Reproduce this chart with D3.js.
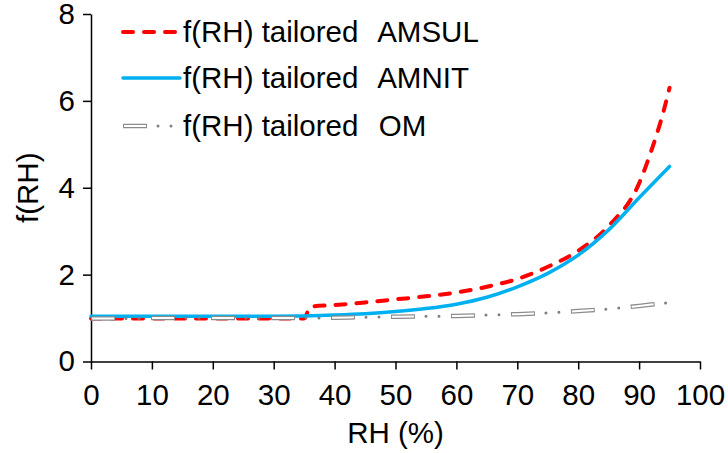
<!DOCTYPE html>
<html>
<head>
<meta charset="utf-8">
<script src="https://cdn.jsdelivr.net/npm/d3@7"></script>
<style>
  html, body { margin: 0; padding: 0; background: #fff; }
  svg { display: block; }
  text { font-family: "Liberation Sans", Arial, sans-serif; fill: #000; }
</style>
</head>
<body>
<svg id="chart" width="728" height="453"></svg>
<script>
// Relative humidity grid (%) and growth factors f(RH)
const rh = [0, 5, 10, 15, 20, 25, 30, 35, 40, 45, 50, 55, 60, 65, 70, 75, 80, 85, 90, 95];
const rhAmsul = [0, 5, 10, 15, 20, 25, 30, 35, 36, 40, 45, 50, 55, 60, 65, 70, 75, 80, 85, 90, 92, 94, 95];
const fAmsul = [0.99, 0.99, 0.99, 0.99, 0.99, 0.99, 0.99, 0.99, 1.26, 1.30, 1.36, 1.43, 1.50, 1.59, 1.72, 1.90, 2.18, 2.55, 3.12, 4.10, 4.85, 5.75, 6.30];
const fAmnit = [1.04, 1.04, 1.04, 1.04, 1.04, 1.04, 1.04, 1.05, 1.07, 1.10, 1.15, 1.22, 1.32, 1.48, 1.72, 2.03, 2.45, 3.03, 3.77, 4.49];
const fOm = [0.99, 0.99, 1.00, 1.00, 1.00, 1.00, 1.00, 1.00, 1.01, 1.02, 1.03, 1.04, 1.05, 1.07, 1.09, 1.12, 1.16, 1.21, 1.28, 1.36];

const xTicks = [0, 10, 20, 30, 40, 50, 60, 70, 80, 90, 100];
const yTicks = [0, 2, 4, 6, 8];
const legendPrefix = "f(RH) tailored  ";
const species = ["AMSUL", "AMNIT", "OM"];

const FONT = 29.5;
const svg = d3.select("#chart");
const plotLeft = 91, plotRight = 700, plotTop = 14, plotBottom = 361.5;

const x = d3.scaleLinear().domain([0, 100]).range([plotLeft, plotRight]);
const y = d3.scaleLinear().domain([0, 8]).range([plotBottom, plotTop]);

// Axes
const xAxis = d3.axisBottom(x).tickValues(xTicks).tickSize(8).tickSizeOuter(0).tickPadding(15);
const yAxis = d3.axisLeft(y).tickValues(yTicks).tickSize(8).tickSizeOuter(0).tickPadding(8);

const gx = svg.append("g").attr("transform", `translate(0,${plotBottom})`).call(xAxis);
const gy = svg.append("g").attr("transform", `translate(${plotLeft},0)`).call(yAxis);
[gx, gy].forEach(g => {
  g.select(".domain").attr("stroke", "#000").attr("stroke-width", 1.5);
  g.selectAll(".tick line").attr("stroke", "#000").attr("stroke-width", 1.5);
  g.selectAll(".tick text").attr("font-size", FONT).attr("font-family", "Liberation Sans, Arial, sans-serif").attr("fill", "#000");
});
gx.selectAll(".tick text").attr("dy", "0.71em");

// Axis titles
svg.append("text").attr("x", (plotLeft + plotRight) / 2).attr("y", 443)
  .attr("text-anchor", "middle").attr("font-size", FONT).text("RH (%)");
svg.append("text").attr("transform", `translate(38,${(plotTop + plotBottom) / 2}) rotate(-90)`)
  .attr("text-anchor", "middle").attr("font-size", FONT).text("f(RH)");

const line = d3.line().curve(d3.curveMonotoneX);
const smooth = d3.line().curve(d3.curveCatmullRom.alpha(0.5));

const amsulPts = rhAmsul.map((r, i) => [x(r), y(fAmsul[i])]);
const amnitPts = rh.map((r, i) => [x(r), y(fAmnit[i])]);
const omPts = rh.map((r, i) => [x(r), y(fOm[i])]);

// Style helpers for each series
function drawAmsul(g, d) {
  g.append("path").attr("d", d).attr("fill", "none").attr("stroke", "#FF0000")
    .attr("stroke-width", 4).attr("stroke-linecap", "round").attr("stroke-dasharray", "10,11");
}
function drawAmnit(g, d) {
  g.append("path").attr("d", d).attr("fill", "none").attr("stroke", "#00B0F0")
    .attr("stroke-width", 3.5).attr("stroke-linecap", "round");
}
function drawOm(g, d) {
  // dots of the dash-dot-dot pattern
  g.append("path").attr("d", d).attr("fill", "none").attr("stroke", "#808080")
    .attr("stroke-width", 3).attr("stroke-linecap", "round")
    .attr("stroke-dasharray", "0,13,0,47").attr("stroke-dashoffset", 25);
  // hollow long dashes: grey outline with white core
  g.append("path").attr("d", d).attr("fill", "none").attr("stroke", "#8c8c8c")
    .attr("stroke-width", 4.5).attr("stroke-dasharray", "24,36");
  g.append("path").attr("d", d).attr("fill", "none").attr("stroke", "#ffffff")
    .attr("stroke-width", 2).attr("stroke-dasharray", "22,38").attr("stroke-dashoffset", -1);
}

const plot = svg.append("g");
drawAmsul(plot, line(amsulPts));
drawAmnit(plot, smooth(amnitPts));
drawOm(plot, smooth(omPts));

// Legend
const legend = svg.append("g");
const legendRows = [32, 78, 126];
const drawers = [drawAmsul, drawAmnit, drawOm];
legendRows.forEach((ly, i) => {
  const d = d3.line()([[123, ly], [180, ly]]);
  drawers[i](legend, d);
  const t = legend.append("text").attr("x", 183).attr("y", ly).attr("dy", "0.35em")
    .attr("font-size", FONT).style("white-space", "pre");
  t.append("tspan").text(legendPrefix);
  t.append("tspan").attr("dx", 4).text(species[i]);
});
</script>
</body>
</html>
